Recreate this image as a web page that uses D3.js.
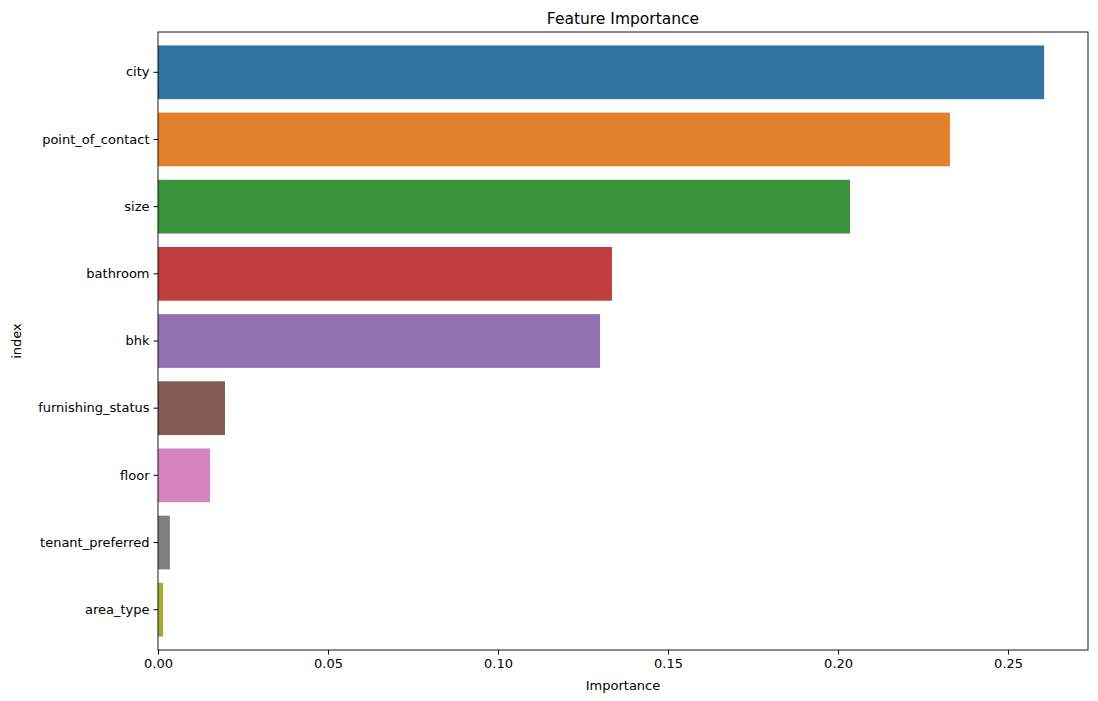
<!DOCTYPE html>
<html><head><meta charset="utf-8">
<script src="https://cdn.jsdelivr.net/npm/d3@7"></script>
<style>body{margin:0;background:#fff}text{font-family:"DejaVu Sans",sans-serif}</style>
</head><body>
<svg id="chart" width="1098" height="701"></svg>
<script>
var features = ["city","point_of_contact","size","bathroom","bhk","furnishing_status","floor","tenant_preferred","area_type"];
var importance = [0.2606,0.2329,0.2035,0.1335,0.1300,0.0197,0.0153,0.0035,0.0015];
var colors = ["#3274a1","#e1812c","#3a923a","#c03d3e","#9372b2","#845b53","#d684bd","#7f7f7f","#a9aa35"];
var xTicks = [0,0.05,0.10,0.15,0.20,0.25];

var svg = d3.select("#chart");
var plotLeft = 158, plotRight = 1088, plotTop = 32, plotBottom = 650;

var x = d3.scaleLinear().domain([0, 0.2735]).range([plotLeft, plotRight]);
var y = d3.scaleBand().domain(features).range([plotTop, plotBottom]).padding(0.2);

svg.selectAll("rect.bar").data(features).enter().append("rect")
	.attr("class", "bar")
	.attr("x", x(0))
	.attr("y", function(d) { return y(d); })
	.attr("width", function(d, i) { return x(importance[i]) - x(0); })
	.attr("height", y.bandwidth())
	.attr("fill", function(d, i) { return colors[i]; });

var xAxis = svg.append("g").attr("transform", "translate(0," + plotBottom + ")")
	.call(d3.axisBottom(x).tickValues(xTicks).tickFormat(d3.format(".2f")).tickSizeOuter(0).tickSize(4.5).tickPadding(4));
var yAxis = svg.append("g").attr("transform", "translate(" + plotLeft + ",0)")
	.call(d3.axisLeft(y).tickSizeOuter(0).tickSize(4.5).tickPadding(4));
[xAxis, yAxis].forEach(function(a) {
	a.selectAll("text").style("font-size", "13px").attr("fill", "#000");
	a.selectAll("line").attr("stroke", "#000");
	a.select(".domain").remove();
});

svg.append("rect").attr("x", plotLeft).attr("y", plotTop)
	.attr("width", plotRight - plotLeft).attr("height", plotBottom - plotTop)
	.attr("fill", "none").attr("stroke", "#000").attr("stroke-width", 0.9);

svg.append("text").attr("x", (plotLeft + plotRight) / 2).attr("y", 24)
	.attr("text-anchor", "middle").style("font-size", "15.5px").text("Feature Importance");
svg.append("text").attr("x", (plotLeft + plotRight) / 2).attr("y", 690)
	.attr("text-anchor", "middle").style("font-size", "13px").text("Importance");
svg.append("text").attr("transform", "translate(21," + (plotTop + plotBottom) / 2 + ") rotate(-90)")
	.attr("text-anchor", "middle").style("font-size", "13px").text("index");
</script>
</body></html>
